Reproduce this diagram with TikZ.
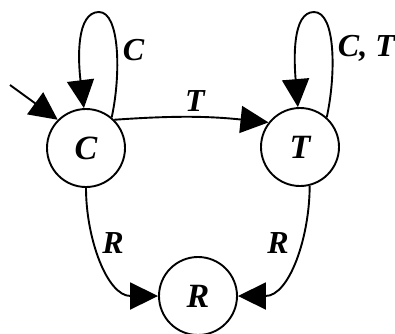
\documentclass[tikz,border=0pt]{standalone}
\usepackage{fontspec}
\setmainfont{Liberation Serif}
\usetikzlibrary{arrows.meta}
\begin{document}
\begin{tikzpicture}[x=1pt,y=1pt, line width=1.9pt,
  state/.style={circle,draw,minimum size=78pt,inner sep=0pt,
    font=\fontsize{34}{34}\selectfont\bfseries\itshape},
  lbl/.style={font=\fontsize{32}{32}\selectfont\bfseries\itshape,inner sep=0pt},
  >={Triangle[length=28pt,width=27pt]}]
\useasboundingbox (0,0) rectangle (395,-333);
\node[state] (C) at (86,-148) {C};
\node[state] (T) at (300,-147) {T};
\node[state] (R) at (198,-296) {R};
% initial arrow
\coordinate (init) at (10,-85);
\draw[->] (init) -- (C.135);
% self loop on C
\coordinate (Ctop) at (99,-12);
\draw[->] (C.50) .. controls (121,-75) and (120,-12) .. (Ctop)
  .. controls (76,-12) and (78,-60) .. (C.93);
\node[lbl, anchor=west] (lC) at (122,-50) {C};
% self loop on T
\coordinate (Ttop) at (314,-12);
\draw[->] (T.48) .. controls (336,-75) and (336,-12) .. (Ttop)
  .. controls (292,-12) and (294,-60) .. (T.93);
\node[lbl, anchor=west] (lCT) at (337,-48) {C, T};
% C -> T
\draw[->] (C.45) to[bend left=5] (T.142);
\node[lbl] (lT) at (195,-101) {T};
% C -> R, T -> R
\draw[->] (C.south) to[out=-90,in=180] (R.west);
\draw[->] (T.-76) to[out=-90,in=0] (R.east);
\node[lbl] (lR1) at (113,-243) {R};
\node[lbl] (lR2) at (278,-243) {R};
\end{tikzpicture}
\end{document}
